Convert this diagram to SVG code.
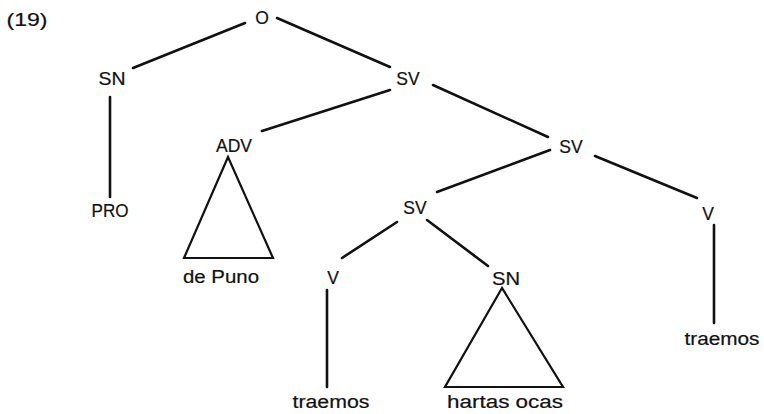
<svg xmlns="http://www.w3.org/2000/svg" width="764" height="414" viewBox="0 0 764 414">
  <style>
    .lbl { font-family: "Liberation Sans", Arial, sans-serif; font-size: 17.5px; fill: #111; stroke: #111; stroke-width: 0.2; text-anchor: middle; }
    .edge { stroke: #111; stroke-width: 2.6; stroke-linecap: round; fill: none; }
    .tri { stroke: #111; stroke-width: 2.2; stroke-linejoin: miter; fill: none; }
  </style>
  <rect width="764" height="414" fill="#fff"/>

  <text class="lbl" x="27" y="26" style="font-size:19px" textLength="41" lengthAdjust="spacingAndGlyphs">(19)</text>

  <g id="connectors">
    <line class="edge" x1="245" y1="23" x2="133" y2="68"/>
    <line class="edge" x1="277" y1="18" x2="390" y2="67"/>
    <line class="edge" x1="110" y1="97" x2="110" y2="197"/>
    <line class="edge" x1="390" y1="90" x2="262" y2="131"/>
    <line class="edge" x1="433" y1="85" x2="548" y2="137"/>
    <line class="edge" x1="550" y1="150" x2="437" y2="192"/>
    <line class="edge" x1="595" y1="156" x2="697" y2="198"/>
    <line class="edge" x1="714" y1="225" x2="714" y2="323"/>
    <line class="edge" x1="397" y1="222" x2="342" y2="258"/>
    <line class="edge" x1="427" y1="220" x2="488" y2="266"/>
    <line class="edge" x1="327" y1="290" x2="327" y2="387"/>
  </g>

  <g id="n-O"><text class="lbl" x="262" y="24">O</text></g>
  <g id="n-SN1"><text class="lbl" x="112" y="85" textLength="27" lengthAdjust="spacingAndGlyphs">SN</text></g>
  <g id="n-PRO"><text class="lbl" x="110" y="217" textLength="37" lengthAdjust="spacingAndGlyphs">PRO</text></g>
  <g id="n-SV1"><text class="lbl" x="408" y="85">SV</text></g>
  <g id="n-ADV">
    <text class="lbl" x="234" y="152">ADV</text>
    <polygon class="tri" points="228,157 184,258 273,258"/>
    <text class="lbl" x="221" y="283" textLength="76" lengthAdjust="spacingAndGlyphs">de Puno</text>
  </g>
  <g id="n-SV2"><text class="lbl" x="571" y="153">SV</text></g>
  <g id="n-SV3"><text class="lbl" x="415" y="214">SV</text></g>
  <g id="n-V2">
    <text class="lbl" x="708" y="220">V</text>
    <text class="lbl" x="722" y="345" textLength="75" lengthAdjust="spacingAndGlyphs">traemos</text>
  </g>
  <g id="n-V1">
    <text class="lbl" x="333" y="284">V</text>
    <text class="lbl" x="331" y="408" textLength="77" lengthAdjust="spacingAndGlyphs">traemos</text>
  </g>
  <g id="n-SN2">
    <text class="lbl" x="506" y="285" textLength="28" lengthAdjust="spacingAndGlyphs">SN</text>
    <polygon class="tri" points="502,288 445,387 563,387"/>
    <text class="lbl" x="505" y="408" textLength="116" lengthAdjust="spacingAndGlyphs">hartas ocas</text>
  </g>
</svg>
